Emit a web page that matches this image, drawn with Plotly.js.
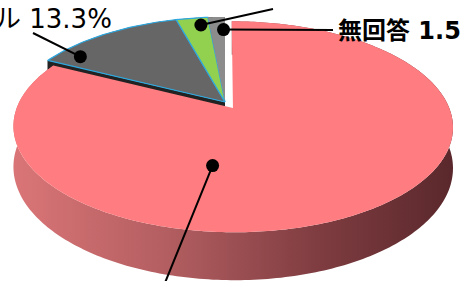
<!DOCTYPE html>
<html><head><meta charset="utf-8">
<script src="https://cdn.plot.ly/plotly-3.0.1.min.js"></script>
<style>html,body{margin:0;padding:0;background:#fff}#chart{width:461px;height:281px}</style>
</head><body><div id="chart"></div>
<script>
// ---- data ----
const sliceKeys   = ['main', 'gray', 'green', 'noAnswer'];
const sliceValues = [82.4, 13.3, 2.8, 1.5];
const labelTexts  = ['', 'ル 13.3%', '', '無回答 1.5%'];
const topColors   = ['#FF7C80', '#666666', '#92D050', '#8C8C8C'];
const explodeAmt  = [0.07, 0, 0, 0];

// ---- 3D pie geometry (perspective projection of a tilted disk) ----
const G = {X0: 225, Y0: 102, A: 214, B: 100, p: 0.176, D: 39};
function proj(u, v, d) {
  const den = 1 + G.p * v;
  return [G.X0 + G.A * u / den, G.Y0 + (-G.B * v + G.D * d) / den];
}
const total = sliceValues.reduce((a, b) => a + b, 0);
const slices = [];
let acc = 0;
sliceValues.forEach((val, i) => {
  const a0 = acc / total * 360, a1 = (acc + val) / total * 360;
  acc += val;
  const mid = (a0 + a1) / 2 * Math.PI / 180;
  slices.push({a0, a1, su: explodeAmt[i] * Math.sin(mid), sv: explodeAmt[i] * Math.cos(mid)});
});
function pt(s, deg, r, d) {
  const t = deg * Math.PI / 180;
  return proj(s.su + r * Math.sin(t), s.sv + r * Math.cos(t), d);
}
function arc(s, from, to, d) {
  const n = Math.max(2, Math.ceil(Math.abs(to - from)));
  const out = [];
  for (let k = 0; k <= n; k++) out.push(pt(s, from + (to - from) * k / n, 1, d));
  return out;
}
function poly(points, opts) {
  return Object.assign({
    type: 'scatter', x: points.map(q => q[0]), y: points.map(q => q[1]),
    fill: 'toself', mode: 'none', hoverinfo: 'skip', showlegend: false
  }, opts);
}
const traces = [];
// back slices: walls
[1, 2, 3].forEach(i => {
  const s = slices[i];
  const wall = arc(s, s.a0, s.a1, 0).concat(arc(s, s.a1, s.a0, 1));
  traces.push(poly(wall, {fillcolor: '#333333'}));
});
{
  const s = slices[1];
  const rw = [pt(s, s.a0, 0, 0), pt(s, s.a0, 1, 0), pt(s, s.a0, 1, 1), pt(s, s.a0, 0, 1)];
  traces.push(poly(rw, {fillcolor: '#222222'}));
}
// back slices: tops
[1, 2, 3].forEach(i => {
  const s = slices[i];
  const top = [pt(s, 0, 0, 0)].concat(arc(s, s.a0, s.a1, 0));
  top.push(top[0]);
  const outlined = i !== 3;
  traces.push(poly(top, outlined
    ? {fillcolor: topColors[i], mode: 'lines', line: {color: '#2DA8E0', width: 1.2}}
    : {fillcolor: topColors[i]}));
});
// main slice: wall with gradient, then top
{
  const s = slices[0];
  const wall = arc(s, s.a0, s.a1, 0).concat(arc(s, s.a1, s.a0, 1));
  traces.push(poly(wall, {
    fillcolor: '#a05055',
    fillgradient: {type: 'horizontal',
      colorscale: [[0, '#DA7577'], [0.35, '#B35E61'], [0.7, '#7E3C40'], [1, '#5A282C']]}
  }));
  const top = [pt(s, 0, 0, 0)].concat(arc(s, s.a0, s.a1, 0));
  top.push(top[0]);
  traces.push(poly(top, {fillcolor: topColors[0]}));
}
// leader lines with dots
const dotSpec = [{frac: 0.64, r: 0.52}, {frac: 0.15, r: 0.884}, {frac: 0.71, r: 0.90}, {frac: 0.9, r: 0.83}];
const lineEnds = [[158, 300], [33, 33], [273, 9], [333, 30]];
slices.forEach((s, i) => {
  const dp = pt(s, s.a0 + (s.a1 - s.a0) * dotSpec[i].frac, dotSpec[i].r, 0);
  traces.push({type: 'scatter', mode: 'lines', x: [dp[0], lineEnds[i][0]], y: [dp[1], lineEnds[i][1]],
    line: {color: '#000', width: 2}, hoverinfo: 'skip', showlegend: false});
  traces.push({type: 'scatter', mode: 'markers', x: [dp[0]], y: [dp[1]],
    marker: {color: '#000', size: 13}, hoverinfo: 'skip', showlegend: false, cliponaxis: false});
});
const fam = 'DejaVu Sans, "Noto Sans CJK JP", sans-serif';
const annotations = [
  {x: 114, y: 19, xanchor: 'right', yanchor: 'middle', text: labelTexts[1],
   font: {family: fam, size: 26, color: '#000', weight: 400}},
  {x: 336, y: 31, xanchor: 'left', yanchor: 'middle', text: labelTexts[3],
   font: {family: fam, size: 24, color: '#000', weight: 700}}
].map(a => Object.assign(a, {xref: 'x', yref: 'y', showarrow: false}));

Plotly.newPlot('chart', traces, {
  width: 461, height: 281, margin: {l: 0, r: 0, t: 0, b: 0},
  paper_bgcolor: '#fff', plot_bgcolor: '#fff',
  xaxis: {range: [0, 461], visible: false, fixedrange: true},
  yaxis: {range: [281, 0], visible: false, fixedrange: true},
  showlegend: false, annotations
}, {staticPlot: true});
</script></body></html>
